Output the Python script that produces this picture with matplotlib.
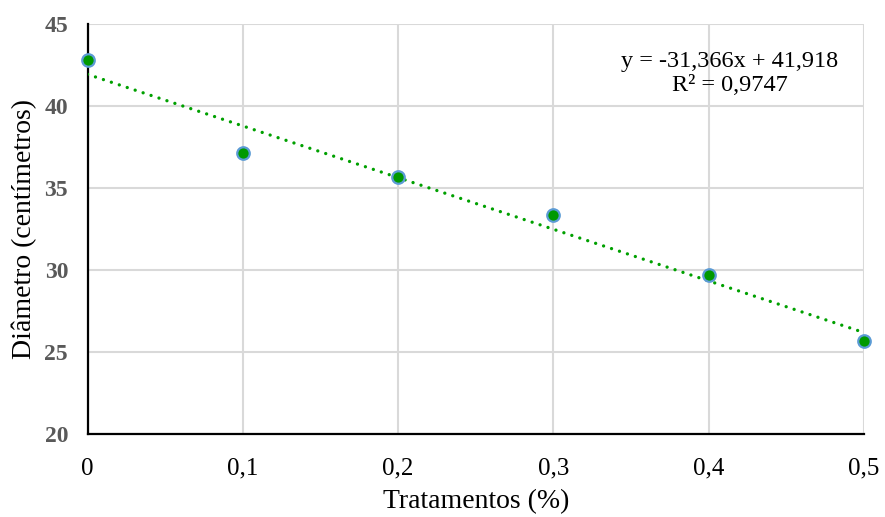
import matplotlib.pyplot as plt
import numpy as np

# dados
tratamentos = [0, 0.1, 0.2, 0.3, 0.4, 0.5]
diametro = [42.82, 37.12, 35.67, 33.35, 29.70, 25.69]
x_ticks = [0, 0.1, 0.2, 0.3, 0.4, 0.5]
x_labels = ['0', '0,1', '0,2', '0,3', '0,4', '0,5']
y_ticks = [20, 25, 30, 35, 40, 45]

plt.rcParams['font.family'] = ['Liberation Serif', 'DejaVu Serif']

fig = plt.figure(figsize=(8.85, 5.17), dpi=100)
ax = fig.add_axes([0.0989, 0.1605, 0.8774, 0.7931])

# linha de tendência (regressão linear)
a, b = np.polyfit(tratamentos, diametro, 1)
xs = np.array([0, 0.5])
ax.plot(xs, a * xs + b, color='#00A000', lw=2.4,
        linestyle=(0, (0.01, 2.5)), dash_capstyle='round', zorder=3)

ax.plot(tratamentos, diametro, 'o', color='#009900', markersize=9,
        markeredgecolor='#5B9BD5', markeredgewidth=1.6, zorder=4,
        clip_on=False)

ax.set_xlim(0, 0.5)
ax.set_ylim(20, 45)
ax.set_xticks(x_ticks)
ax.set_xticklabels(x_labels)
ax.set_yticks(y_ticks)

ax.grid(True, color='#D9D9D9', lw=1.5)
ax.set_axisbelow(True)
for s in ['top', 'right']:
    ax.spines[s].set_visible(False)
for s in ['left', 'bottom']:
    ax.spines[s].set_linewidth(1.6)
    ax.spines[s].set_color('black')

ax.tick_params(axis='both', length=0)
ax.tick_params(axis='x', labelsize=18, pad=17)
ax.tick_params(axis='y', labelsize=17, pad=14, labelcolor='#595959')
for lbl in ax.get_yticklabels():
    lbl.set_fontweight('bold')

ax.set_xlabel('Tratamentos (%)', fontsize=20, labelpad=7)
ax.set_ylabel('Diâmetro (centímetros)', fontsize=20, labelpad=5)

ax.text(0.4137, 41.98, 'y = -31,366x + 41,918\nR² = 0,9747', fontsize=17.5,
        ha='center', va='center', linespacing=1.2)

fig.savefig('out.png', dpi=100)
